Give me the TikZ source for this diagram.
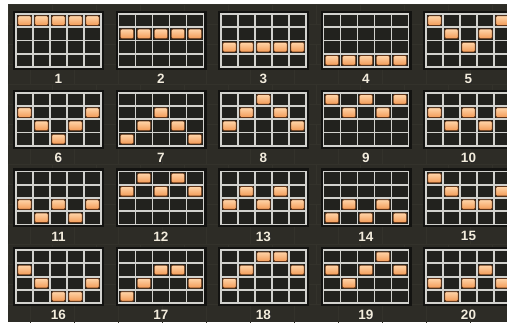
\documentclass[tikz,border=0pt]{standalone}
\usepackage{fontspec}
\setmainfont{Liberation Sans}
\definecolor{bgc}{HTML}{2D2C26}
\definecolor{brickc}{HTML}{33322B}
\definecolor{shadowc}{HTML}{131311}
\definecolor{cellc}{HTML}{22221E}
\definecolor{linec}{HTML}{D2D2CE}
\definecolor{hittop}{HTML}{FFD4A8}
\definecolor{hitbot}{HTML}{F29A56}
\definecolor{hitedge}{HTML}{5E3216}
\definecolor{labc}{HTML}{F2ECDC}
\tikzset{
  brick/.style={draw=brickc, line width=0.7pt},
  frameshadow/.style={fill=shadowc},
  celldark/.style={fill=cellc},
  gridline/.style={draw=linec, line width=1.8pt, line cap=rect},
  hit/.style={draw=hitedge, line width=0.8pt, rounded corners=1.2pt, top color=hittop, bottom color=hitbot},
  lab/.style={text=labc, font=\bfseries\fontsize{13.5}{13.5}\selectfont, inner sep=0pt},
  labshadow/.style={text=black!85, font=\bfseries\fontsize{13.5}{13.5}\selectfont, inner sep=0pt}
}
\begin{document}
\begin{tikzpicture}[x=1pt,y=-1pt]
\useasboundingbox (0,0) rectangle (507,322);
\clip (0,0) rectangle (507,322);
\fill[white] (0,0) rectangle (507,322);
\fill[bgc] (8,4) rectangle (507,322);
\begin{scope}
  \clip (8,4) rectangle (507,322);
  \foreach \r in {0,...,16} {
    \pgfmathsetmacro\yy{4+20*\r}
    \pgfmathsetmacro\off{mod(\r,2)*22}
    \draw[brick] (8,\yy) -- (507,\yy);
    \foreach \k in {0,...,12} {
      \draw[brick] ({8+\off+44*\k},\yy) -- ++(0,20);
    }
  }
\end{scope}
\foreach \n/\a/\b/\c/\d/\e in {
  1/0/0/0/0/0, 2/1/1/1/1/1, 3/2/2/2/2/2, 4/3/3/3/3/3, 5/0/1/2/1/0,
  6/1/2/3/2/1, 7/3/2/1/2/3, 8/2/1/0/1/2, 9/0/1/0/1/0, 10/1/2/1/2/1,
  11/2/3/2/3/2, 12/1/0/1/0/1, 13/2/1/2/1/2, 14/3/2/3/2/3, 15/0/1/2/2/1,
  16/1/2/3/3/2, 17/3/2/1/1/2, 18/2/1/0/0/1, 19/1/2/1/0/1, 20/2/3/2/1/2} {
  \pgfmathtruncatemacro\ci{mod(\n-1,5)}
  \pgfmathtruncatemacro\ri{int((\n-1)/5)}
  \pgfmathsetmacro\L{14+102.5*\ci}
  \pgfmathsetmacro\T{12+78.7*\ri}
  \fill[frameshadow] (\L-1,\T-1) rectangle (\L+90,\T+58);
  \fill[celldark] (\L+2,\T+2) rectangle (\L+87,\T+55);
  \foreach \col/\row in {0/\a,1/\b,2/\c,3/\d,4/\e} {
    \path[hit] ({\L+3.8+17*\col},{\T+3.8+13.25*\row}) rectangle ++(13.4,9.65);
  }
  \foreach \k in {0,...,5} {
    \draw[gridline] ({\L+2+17*\k},\T+2) -- ({\L+2+17*\k},\T+55);
  }
  \foreach \k in {0,...,4} {
    \draw[gridline] (\L+2,{\T+2+13.25*\k}) -- (\L+87,{\T+2+13.25*\k});
  }
  \node[labshadow] (labs\n) at (\L+45.2,\T+67.7) {\n};
  \node[lab] (lab\n) at (\L+44.5,\T+67) {\n};
}
\end{tikzpicture}
\end{document}
